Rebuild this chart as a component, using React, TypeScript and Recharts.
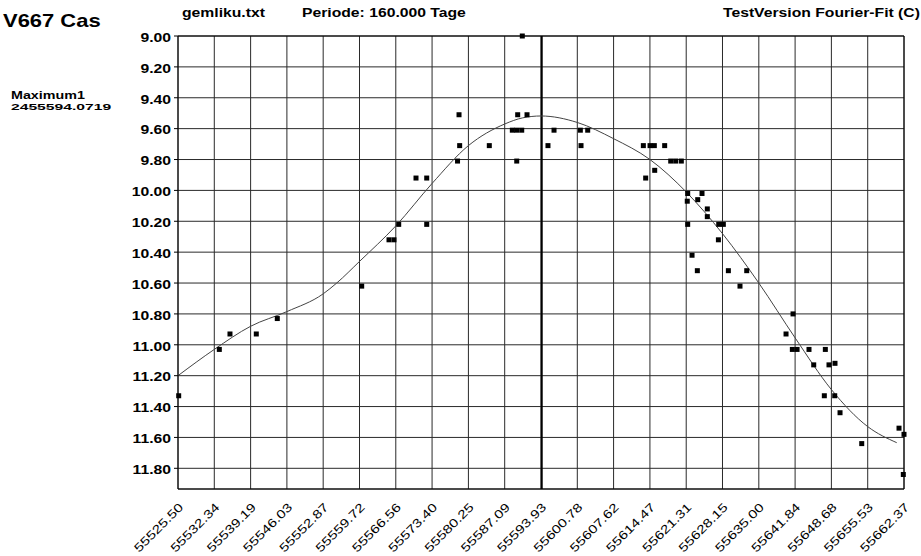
import React from "react";
import {
  ComposedChart,
  XAxis,
  YAxis,
  CartesianGrid,
  Scatter,
  Line,
  ReferenceLine,
} from "recharts";

const xTickLabels = [
  "55525.50", "55532.34", "55539.19", "55546.03", "55552.87", "55559.72",
  "55566.56", "55573.40", "55580.25", "55587.09", "55593.93", "55600.78",
  "55607.62", "55614.47", "55621.31", "55628.15", "55635.00", "55641.84",
  "55648.68", "55655.53", "55662.37",
];
const yTickLabels = [
  "9.00", "9.20", "9.40", "9.60", "9.80", "10.00", "10.20", "10.40",
  "10.60", "10.80", "11.00", "11.20", "11.40", "11.60", "11.80",
];

const obsJD = [
  55525.63, 55533.29, 55535.30, 55540.26, 55544.22, 55560.13, 55565.28, 55566.22,
  55567.11, 55570.37, 55572.39, 55572.39, 55578.48, 55578.60, 55578.20, 55584.19,
  55588.53, 55589.36, 55590.30, 55589.54, 55591.30, 55589.36, 55590.41, 55595.25,
  55596.39, 55601.35, 55602.74, 55601.48, 55613.23, 55614.49, 55615.30, 55617.25,
  55618.39, 55619.33, 55620.39, 55615.37, 55613.67, 55621.59, 55621.51, 55623.48,
  55624.29, 55625.29, 55625.29, 55621.59, 55627.44, 55628.31, 55627.38, 55622.41,
  55623.41, 55629.26, 55632.72, 55631.45, 55641.45, 55640.13, 55641.32, 55642.21,
  55644.46, 55647.54, 55645.35, 55648.23, 55649.36, 55647.35, 55649.31, 55650.31,
  55654.40, 55661.43, 55662.37, 55662.24,
];
const obsMag = [
  11.33, 11.03, 10.93, 10.93, 10.83, 10.62, 10.32, 10.32,
  10.22, 9.92, 9.92, 10.22, 9.51, 9.71, 9.81, 9.71,
  9.61, 9.61, 9.61, 9.51, 9.51, 9.81, 9.0, 9.71,
  9.61, 9.61, 9.61, 9.71, 9.71, 9.71, 9.71, 9.71,
  9.81, 9.81, 9.81, 9.87, 9.92, 10.02, 10.07, 10.06,
  10.02, 10.12, 10.17, 10.22, 10.22, 10.22, 10.32, 10.42,
  10.52, 10.52, 10.52, 10.62, 10.8, 10.93, 11.03, 11.03,
  11.03, 11.03, 11.13, 11.13, 11.12, 11.33, 11.33, 11.44,
  11.64, 11.54, 11.58, 11.84,
];

const fitJD = [
  55525.5, 55532.34, 55539.19, 55546.03, 55552.87, 55555.42, 55559.72, 55566.56,
  55573.4, 55580.25, 55587.09, 55590.5, 55593.93, 55600.78, 55607.62, 55614.47,
  55621.31, 55628.15, 55635.0, 55641.84, 55648.68, 55655.53, 55661.0,
];
const fitMag = [
  11.2, 11.03, 10.88, 10.785, 10.67, 10.6, 10.46, 10.23,
  9.955, 9.71, 9.57, 9.53, 9.518, 9.56, 9.665, 9.8,
  10.01, 10.28, 10.6, 10.955, 11.29, 11.53, 11.634,
];

const maximumJD = 55594.0719;

const obsData = obsJD.map((x, i) => ({ x, y: obsMag[i] }));
const fitData = fitJD.map((x, i) => ({ x, y: fitMag[i] }));
const xTicks = xTickLabels.map(Number);
const yTicks = yTickLabels.map(Number);

const FONT = "'Liberation Sans', Arial, sans-serif";
const SX = 1.31;

const XTick = (props: any) => {
  const { x, y, payload } = props;
  const label = xTickLabels[xTicks.indexOf(payload.value)] ?? String(payload.value);
  return (
    <text
      transform={`translate(${x + 6},${y + 11}) rotate(-45) scale(1.27,1)`}
      textAnchor="end"
      fontFamily={FONT}
      fontSize={12}
      fill="#000"
    >
      {label}
    </text>
  );
};

const YTick = (props: any) => {
  const { x, y, payload } = props;
  const label = yTickLabels[yTicks.indexOf(payload.value)] ?? Number(payload.value).toFixed(2);
  return (
    <text
      transform={`translate(${x},${y + 5.8}) scale(${SX},1)`}
      textAnchor="end"
      fontFamily={FONT}
      fontSize={12}
      fontWeight="bold"
      fill="#000"
    >
      {label}
    </text>
  );
};

const SquareDot = (props: any) => {
  const { cx, cy } = props;
  if (cx == null || cy == null) return null;
  return <rect x={cx - 2.5} y={cy - 2.5} width={5} height={5} fill="#000" />;
};

const Stretch = ({ x, y, sx, size, bold, children }: any) => (
  <text
    transform={`translate(${x},${y}) scale(${sx},1)`}
    fontFamily={FONT}
    fontSize={size}
    fontWeight={bold ? "bold" : "normal"}
    fill="#000"
  >
    {children}
  </text>
);

export default function App() {
  return (
    <div
      style={{
        position: "absolute",
        left: 0,
        top: 0,
        width: 921,
        height: 556,
        background: "#fff",
        overflow: "hidden",
      }}
    >
      <ComposedChart
        width={921}
        height={556}
        margin={{ top: 36, right: 17, bottom: 0, left: 0 }}
      >
        <CartesianGrid stroke="#2a2a2a" strokeWidth={1} />
        <XAxis
          type="number"
          dataKey="x"
          domain={[55525.5, 55662.37]}
          ticks={xTicks}
          interval={0}
          height={67}
          tickLine={false}
          axisLine={{ stroke: "#000", strokeWidth: 1 }}
          tick={<XTick />}
        />
        <YAxis
          type="number"
          dataKey="y"
          reversed
          domain={[9, 11.934]}
          ticks={yTicks}
          interval={0}
          width={178}
          tickSize={4}
          tickMargin={3}
          tickLine={{ stroke: "#000" }}
          axisLine={{ stroke: "#000", strokeWidth: 1 }}
          tick={<YTick />}
        />
        <ReferenceLine x={55662.37} stroke="#000" strokeWidth={1} />
        <ReferenceLine y={9} stroke="#000" strokeWidth={1} />
        <ReferenceLine x={maximumJD} stroke="#000" strokeWidth={2} />
        <Line
          data={fitData}
          dataKey="y"
          type="monotone"
          dot={false}
          stroke="#444"
          strokeWidth={1}
          isAnimationActive={false}
        />
        <Scatter
          data={obsData}
          dataKey="y"
          shape={<SquareDot />}
          isAnimationActive={false}
        />
      </ComposedChart>
      <svg
        width={921}
        height={556}
        style={{ position: "absolute", left: 0, top: 0, pointerEvents: "none" }}
      >
        <Stretch x={3} y={26.7} sx={1.22} size={18} bold>V667 Cas</Stretch>
        <Stretch x={182} y={17} sx={SX} size={12} bold>gemliku.txt</Stretch>
        <Stretch x={302} y={17} sx={SX} size={12} bold>Periode: 160.000 Tage</Stretch>
        <Stretch x={723} y={17} sx={SX} size={12} bold>TestVersion Fourier-Fit (C)</Stretch>
        <Stretch x={11} y={99} sx={1.43} size={10} bold>Maximum1</Stretch>
        <Stretch x={11} y={110} sx={1.74} size={9} bold>2455594.0719</Stretch>
      </svg>
    </div>
  );
}
